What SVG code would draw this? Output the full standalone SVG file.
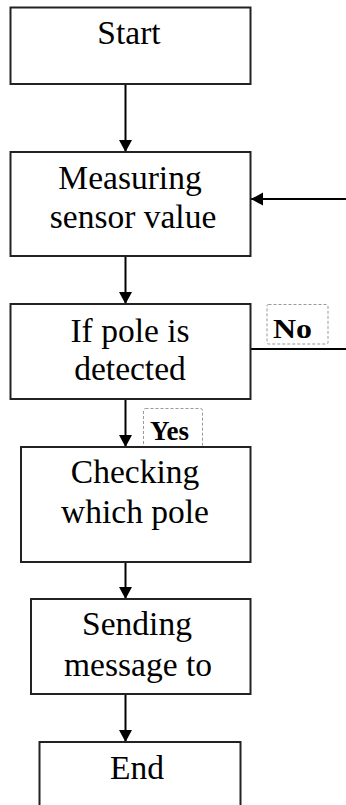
<svg xmlns="http://www.w3.org/2000/svg" width="346" height="805" viewBox="0 0 346 805">
<defs>
<marker id="ah" markerUnits="userSpaceOnUse" markerWidth="14" markerHeight="14" refX="12" refY="6.5" orient="auto">
<path d="M0,0 L12,6.5 L0,13 Z" fill="#000"/>
</marker>
<style>
.box{fill:#fff;stroke:#222;stroke-width:2}
text{font-family:'Liberation Serif','DejaVu Serif',serif}
.t{font-size:33.5px;fill:#000;text-anchor:middle}
.lbl{font-size:27px;font-weight:bold;fill:#000}
.lb{fill:#fff;stroke:#999;stroke-width:1;stroke-dasharray:3,2}
.c{fill:none;stroke:#000;stroke-width:2}
</style>
</defs>
<rect width="346" height="805" fill="#fff"/>
<g id="connectors">
<line class="c" x1="125.5" y1="84" x2="125.5" y2="152" marker-end="url(#ah)"/>
<line class="c" x1="125.5" y1="256" x2="125.5" y2="304" marker-end="url(#ah)"/>
<line class="c" x1="125.5" y1="399" x2="125.5" y2="447" marker-end="url(#ah)"/>
<line class="c" x1="125.5" y1="562" x2="125.5" y2="599" marker-end="url(#ah)"/>
<line class="c" x1="125.5" y1="694" x2="125.5" y2="742" marker-end="url(#ah)"/>
<line class="c" x1="346" y1="199" x2="251" y2="199" marker-end="url(#ah)"/>
<line class="c" x1="251" y1="349" x2="346" y2="349"/>
</g>
<g id="start">
<rect class="box" x="10.5" y="7.5" width="240" height="76.5"/>
<text class="t" x="129" y="44">Start</text>
</g>
<g id="measuring">
<rect class="box" x="10.5" y="152" width="240" height="104"/>
<text class="t" x="130" y="189">Measuring</text>
<text class="t" x="133" y="228">sensor value</text>
</g>
<g id="detect">
<rect class="box" x="10.5" y="304" width="240" height="95"/>
<text class="t" x="130" y="342">If pole is</text>
<text class="t" x="130" y="380">detected</text>
</g>
<g id="label-no">
<rect class="lb" x="267" y="304.5" width="61" height="39.5" rx="1.5"/>
<text class="lbl" x="273" y="337.5" textLength="39" lengthAdjust="spacingAndGlyphs">No</text>
</g>
<g id="label-yes">
<rect class="lb" x="143.5" y="408.5" width="59" height="39" rx="2"/>
<text class="lbl" x="150" y="440">Yes</text>
</g>
<g id="checking">
<rect class="box" x="21" y="447" width="229.5" height="115"/>
<text class="t" x="135" y="483">Checking</text>
<text class="t" x="135" y="523">which pole</text>
</g>
<g id="sending">
<rect class="box" x="31" y="599" width="219.5" height="95"/>
<text class="t" x="137" y="635">Sending</text>
<text class="t" x="138" y="676">message to</text>
</g>
<g id="end">
<rect class="box" x="39.5" y="742" width="201" height="70"/>
<text class="t" x="137" y="779">End</text>
</g>
</svg>
